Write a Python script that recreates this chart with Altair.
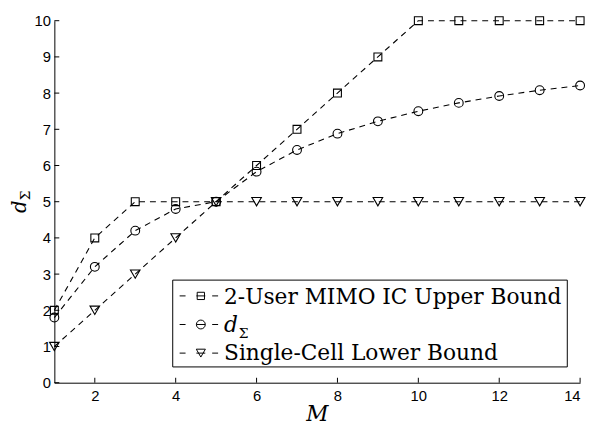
import altair as alt
import pandas as pd

# ---- data ----
M = [1, 2, 3, 4, 5, 6, 7, 8, 9, 10, 11, 12, 13, 14]
upper = [2, 4, 5, 5, 5, 6, 7, 8, 9, 10, 10, 10, 10, 10]
dsum = [1.8, 3.2, 4.2, 4.8, 5.0, 5.83, 6.43, 6.88, 7.22, 7.5, 7.73, 7.92, 8.08, 8.21]
lower = [1, 2, 3, 4, 5, 5, 5, 5, 5, 5, 5, 5, 5, 5]
series_names = ["2-User MIMO IC Upper Bound", "dΣ", "Single-Cell Lower Bound"]
shapes = ["square", "circle", "triangle-down"]
marker_sizes = [64, 95, 100]
x_ticks = [2, 4, 6, 8, 10, 12, 14]
y_ticks = [0, 1, 2, 3, 4, 5, 6, 7, 8, 9, 10]

rows = []
for name, vals in zip(series_names, [upper, dsum, lower]):
    for m, v in zip(M, vals):
        rows.append({"M": m, "value": v, "series": name})
df = pd.DataFrame(rows)

W, H = 533, 367
SANS = "Liberation Sans"
SERIF = "DejaVu Serif"
xs = alt.Scale(domain=[1, 14], nice=False, zero=False)
ys = alt.Scale(domain=[0, 10], nice=False, zero=False)

ax_common = dict(ticks=False, grid=False, domainColor="black", domainWidth=1, labelOverlap=False,
                 labelFont=SANS, labelFontSize=15, labelColor="black", title=None)
xaxis = alt.Axis(values=x_ticks, format="d", labelPadding=6, **ax_common)
yaxis = alt.Axis(values=y_ticks, format="d", labelPadding=4, **ax_common)

base = alt.Chart(df)
lines = base.mark_line(color="black", strokeWidth=1.1, strokeDash=[6, 5]).encode(
    x=alt.X("M:Q", scale=xs, axis=xaxis),
    y=alt.Y("value:Q", scale=ys, axis=yaxis),
    detail="series:N",
)
points = base.mark_point(filled=False, color="black", strokeWidth=1.1, opacity=1).encode(
    x=alt.X("M:Q", scale=xs, axis=xaxis),
    y=alt.Y("value:Q", scale=ys, axis=yaxis),
    shape=alt.Shape("series:N", scale=alt.Scale(domain=series_names, range=shapes), legend=None),
    size=alt.Size("series:N", scale=alt.Scale(domain=series_names, range=marker_sizes), legend=None),
)

# inward ticks
xt = alt.Chart(pd.DataFrame({"M": x_ticks})).mark_rule(color="black", strokeWidth=1).encode(
    x=alt.X("M:Q", scale=xs, axis=xaxis), y=alt.value(H), y2=alt.value(H - 5))
yt = alt.Chart(pd.DataFrame({"value": y_ticks})).mark_rule(color="black", strokeWidth=1).encode(
    y=alt.Y("value:Q", scale=ys, axis=yaxis), x=alt.value(0), x2=alt.value(5))

one = pd.DataFrame({"k": [0]})

# axis titles
xtitle = alt.Chart(pd.DataFrame({"t": ["M"]})).mark_text(
    font=SERIF, fontStyle="italic", fontSize=22, align="center", baseline="alphabetic", color="black"
).encode(text="t:N", x=alt.value(W / 2), y=alt.value(406))
ytitle_d = alt.Chart(pd.DataFrame({"t": ["d"]})).mark_text(
    font=SERIF, fontStyle="italic", fontSize=20, angle=270, align="left", baseline="alphabetic", color="black"
).encode(text="t:N", x=alt.value(-29), y=alt.value(195))
ytitle_s = alt.Chart(pd.DataFrame({"t": ["Σ"]})).mark_text(
    font=SERIF, fontSize=14, angle=270, align="left", baseline="alphabetic", color="black"
).encode(text="t:N", x=alt.value(-25), y=alt.value(182))

# legend
legend_box = alt.Chart(one).mark_rect(fill="white", stroke="black", strokeWidth=1).encode(
    x=alt.value(120), x2=alt.value(520), y=alt.value(263), y2=alt.value(351))
leg_layers = [legend_box]
sym_y = [279, 308, 337]
txt_y = [287, 316, 344]
for i, name in enumerate(series_names):
    d1 = pd.DataFrame({"series": [name]})
    for xa, xb in [(127, 133), (144, 153), (160, 166)]:
        leg_layers.append(alt.Chart(d1).mark_rule(color="black", strokeWidth=1).encode(
            x=alt.value(xa), x2=alt.value(xb), y=alt.value(sym_y[i])))
    leg_layers.append(alt.Chart(d1).mark_point(filled=False, color="black", strokeWidth=1, opacity=1,
                                               shape=shapes[i], size=marker_sizes[i] * 0.85).encode(
        x=alt.value(148.5), y=alt.value(sym_y[i])))
    if name == "dΣ":
        leg_layers.append(alt.Chart(pd.DataFrame({"t": ["d"]})).mark_text(
            font=SERIF, fontStyle="italic", fontSize=22, align="left", baseline="alphabetic", color="black"
        ).encode(text="t:N", x=alt.value(172), y=alt.value(txt_y[i])))
        leg_layers.append(alt.Chart(pd.DataFrame({"t": ["Σ"]})).mark_text(
            font=SERIF, fontSize=14, align="left", baseline="alphabetic", color="black"
        ).encode(text="t:N", x=alt.value(187), y=alt.value(txt_y[i] + 6)))
    else:
        leg_layers.append(alt.Chart(d1).mark_text(
            font=SERIF, fontSize=22, align="left", baseline="alphabetic", color="black"
        ).encode(text="series:N", x=alt.value(172), y=alt.value(txt_y[i])))

chart = alt.layer(lines, points, xt, yt, xtitle, ytitle_d, ytitle_s, *leg_layers).properties(
    width=W, height=H,
    autosize=alt.AutoSizeParams(type="none"),
    padding={"left": 47, "top": 10, "right": 8, "bottom": 40},
).configure_view(stroke=None).configure_axis(labelOverlap=False)

chart.save("out.html", embed_options={"renderer": "svg", "actions": False})
